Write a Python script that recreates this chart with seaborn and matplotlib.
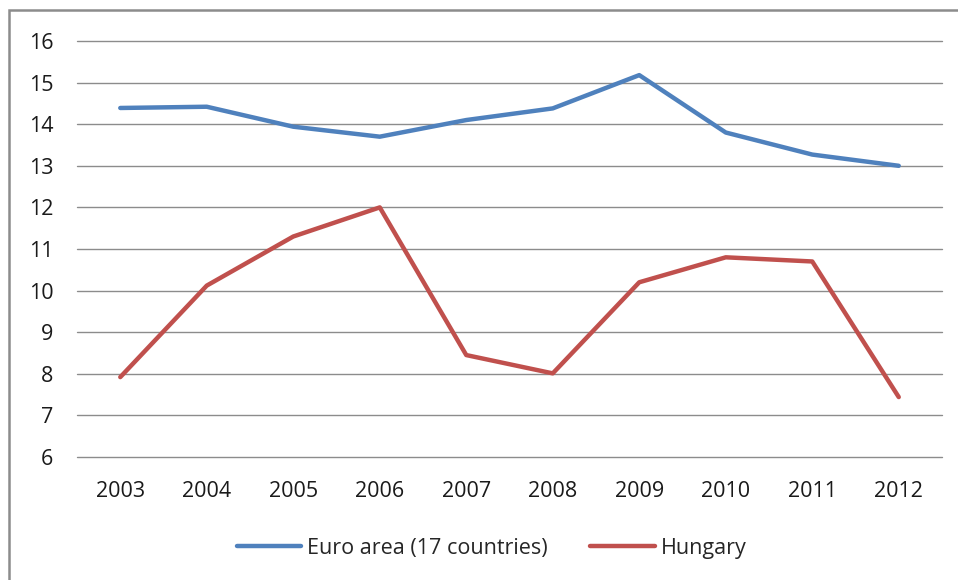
import matplotlib
matplotlib.use("Agg")
import matplotlib.pyplot as plt
import seaborn as sns
import pandas as pd
from matplotlib.patches import Rectangle

years = ["2003", "2004", "2005", "2006", "2007", "2008", "2009", "2010", "2011", "2012"]
euro_area = [14.39, 14.42, 13.94, 13.70, 14.10, 14.38, 15.18, 13.80, 13.27, 13.00]
hungary = [7.92, 10.12, 11.30, 12.00, 8.45, 8.01, 10.20, 10.80, 10.70, 7.44]
series_names = ["Euro area (17 countries)", "Hungary"]
y_ticks = [6, 7, 8, 9, 10, 11, 12, 13, 14, 15, 16]

df = pd.DataFrame({
    "year": years * 2,
    "value": euro_area + hungary,
    "series": [series_names[0]] * len(years) + [series_names[1]] * len(years),
})

sns.set_style("white")
plt.rcParams["font.family"] = ["Open Sans", "DejaVu Sans"]

fig = plt.figure(figsize=(9.58, 5.8), dpi=100)
ax = fig.add_axes([0.0804, 0.2121, 0.9029, 0.7172])

palette = {series_names[0]: "#4F81BD", series_names[1]: "#C0504D"}
sns.lineplot(data=df, x="year", y="value", hue="series", palette=palette,
             linewidth=3.2, ax=ax, sort=False, legend=True)

ax.set_ylim(6, 16)
ax.set_yticks(y_ticks)
ax.set_xlim(-0.5, len(years) - 0.5)
ax.grid(axis="y", color="#8c8c8c", linewidth=1.0)
for gl in ax.get_ygridlines():
    gl.set_clip_on(False)
ax.set_axisbelow(True)
for s in ax.spines.values():
    s.set_visible(False)
ax.set_xlabel("")
ax.set_ylabel("")
ax.tick_params(axis="both", length=0, labelsize=15.5, colors="#1a1a1a")
ax.tick_params(axis="y", pad=17)
ax.tick_params(axis="x", pad=17)

handles, labels = ax.get_legend_handles_labels()
ax.get_legend().remove()
fig.legend(handles, labels, loc="center", bbox_to_anchor=(0.513, 0.055), ncol=2,
           frameon=False, fontsize=15.5, handlelength=3.0, handletextpad=0.25,
           columnspacing=2.0)

fig.patches.append(Rectangle((9 / 958, -0.1), 1.2, 1.1 - 10 / 580,
                             transform=fig.transFigure, fill=False,
                             edgecolor="#8c8c8c", linewidth=1.8))

fig.savefig("out.png", dpi=100)
